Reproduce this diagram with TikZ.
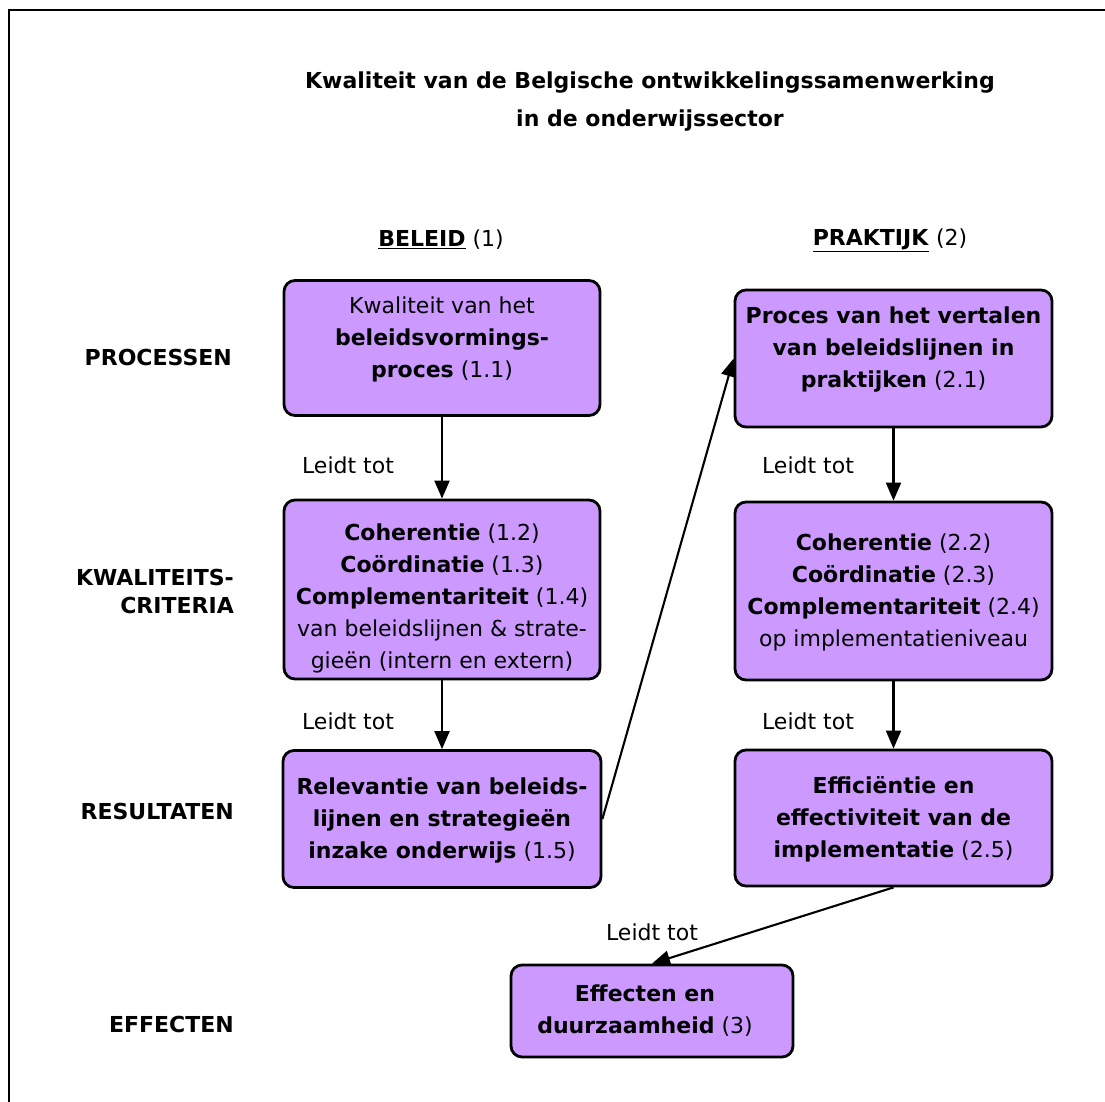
\documentclass[tikz,border=0pt]{standalone}
\usepackage{fontspec}
\setmainfont{DejaVu Sans}
\usetikzlibrary{arrows.meta}
\definecolor{boxfill}{RGB}{204,153,255}
\tikzset{
  box/.style={draw=black, line width=2.8pt, fill=boxfill, rounded corners=11pt, inner sep=0pt},
  txt/.style={align=center, inner sep=0pt, font=\fontsize{22}{32}\selectfont},
  lab/.style={inner sep=0pt, font=\fontsize{22}{32}\selectfont},
  rowlab/.style={anchor=east, align=right, inner sep=0pt, font=\fontsize{22}{28}\selectfont\bfseries},
  arr/.style={line width=2.1pt, -{Triangle[length=18pt,width=15pt]}},
}
\begin{document}
\begin{tikzpicture}[x=1pt,y=-1pt]
\useasboundingbox (0,0) rectangle (1105,1102);
% frame (only left and top edges visible)
\coordinate (fbl) at (9,1102);
\coordinate (ftl) at (9,10);
\coordinate (ftr) at (1105,10);
\draw[line width=2.8pt] (fbl) -- (ftl) -- (ftr);

% title
\node[txt, font=\fontsize{22}{38}\selectfont\bfseries] (title) at (650,102) {Kwaliteit van de Belgische ontwikkelingssamenwerking\\in de onderwijssector};

% column headers
\node[lab] (h1) at (441,240) {\underline{\textbf{BELEID}} (1)};
\node[lab] (h2) at (890,240) {\underline{\textbf{PRAKTIJK}} (2)};

% row labels
\node[rowlab] (r1) at (232,357) {PROCESSEN};
\node[rowlab] (r2) at (234,591) {KWALITEITS-\\CRITERIA};
\node[rowlab] (r3) at (234,811) {RESULTATEN};
\node[rowlab] (r4) at (234,1024) {EFFECTEN};

% boxes
\node[box, minimum width=316pt, minimum height=135pt] (b11) at (442,348) {};
\node[box, minimum width=316pt, minimum height=179pt] (b12) at (442,589.5) {};
\node[box, minimum width=318pt, minimum height=137pt] (b15) at (442,819) {};
\node[box, minimum width=317pt, minimum height=137pt] (b21) at (893.5,358.5) {};
\node[box, minimum width=317pt, minimum height=178pt] (b22) at (893.5,591) {};
\node[box, minimum width=317pt, minimum height=136pt] (b25) at (893.5,818) {};
\node[box, minimum width=282pt, minimum height=92pt] (b3) at (652,1011) {};

% box texts
\node[txt] (t11) at (442,339) {Kwaliteit van het\\\textbf{beleidsvormings-}\\\textbf{proces} (1.1)};
\node[txt] (t12) at (442,598.5) {\textbf{Coherentie} (1.2)\\\textbf{Coördinatie} (1.3)\\\textbf{Complementariteit} (1.4)\\van beleidslijnen \& strate-\\gieën (intern en extern)};
\node[txt] (t15) at (442,821) {\textbf{Relevantie van beleids-}\\\textbf{lijnen en strategieën}\\\textbf{inzake onderwijs} (1.5)};
\node[txt] (t21) at (893.5,350) {\textbf{Proces van het vertalen}\\\textbf{van beleidslijnen in}\\\textbf{praktijken} (2.1)};
\node[txt] (t22) at (893.5,592) {\textbf{Coherentie} (2.2)\\\textbf{Coördinatie} (2.3)\\\textbf{Complementariteit} (2.4)\\op implementatieniveau};
\node[txt] (t25) at (893.5,819) {\textbf{Efficiëntie en}\\\textbf{effectiviteit van de}\\\textbf{implementatie} (2.5)};
\node[txt] (t3) at (645,1011) {\textbf{Effecten en}\\\textbf{duurzaamheid} (3)};

% connectors
\draw[arr] (b11.south) -- (b12.north);
\draw[arr] (b12.south) -- (b15.north);
\draw[arr] (b21.south) -- (b22.north);
\draw[arr] (b22.south) -- (b25.north);
\draw[arr] (b15.east) -- (b21.west);
\draw[arr] (b25.south) -- (b3.north);

% connector labels
\node[lab] (l1) at (348,465) {Leidt tot};
\node[lab] (l2) at (348,721) {Leidt tot};
\node[lab] (l3) at (808,465) {Leidt tot};
\node[lab] (l4) at (808,721) {Leidt tot};
\node[lab] (l5) at (652,932) {Leidt tot};
\end{tikzpicture}
\end{document}
